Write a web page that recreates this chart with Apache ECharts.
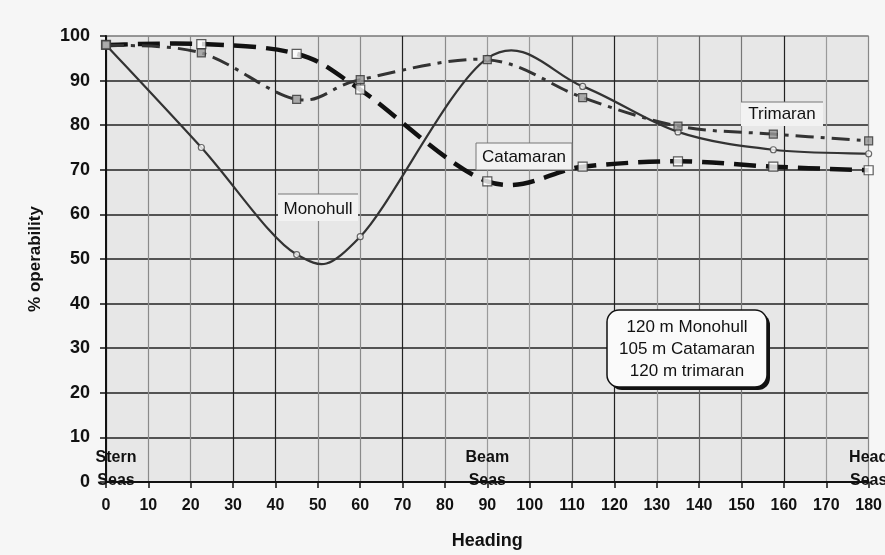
<!DOCTYPE html>
<html>
<head>
<meta charset="utf-8">
<script src="https://cdn.jsdelivr.net/npm/echarts@6/dist/echarts.min.js"></script>
<style>
html,body{margin:0;padding:0;background:#f6f6f6;}
#main{width:885px;height:555px;}
</style>
</head>
<body>
<div id="main"></div>
<script>
// ---- data ----
const headings = [0, 22.5, 45, 60, 90, 112.5, 135, 157.5, 180];
const monohull = [98, 75, 51, 55, 95, 88.7, 78.5, 74.5, 73.6];
const catamaran = [98, 98.2, 96, 88, 67.4, 70.7, 71.9, 70.7, 69.9];
const trimaran = [98, 96.2, 85.8, 90.2, 94.7, 86.2, 79.8, 78, 76.5];
const seaLabelX = [0, 90, 180];
const seaLabelText = ['Stern\nSeas', 'Beam\nSeas', 'Head\nSeas'];
const legendLines = ['120 m Monohull', '105 m Catamaran', '120 m trimaran'];

const FONT = '"Liberation Sans", Arial, sans-serif';
const pair = (ys) => headings.map((h, i) => [h, ys[i]]);

// Catmull-Rom spline through pixel points -> SVG path data
function crPath(pts) {
  let d = 'M' + pts[0][0] + ' ' + pts[0][1];
  for (let i = 0; i < pts.length - 1; i++) {
    const p0 = pts[i - 1] || pts[i];
    const p1 = pts[i];
    const p2 = pts[i + 1];
    const p3 = pts[i + 2] || pts[i + 1];
    const c1x = p1[0] + (p2[0] - p0[0]) / 6, c1y = p1[1] + (p2[1] - p0[1]) / 6;
    const c2x = p2[0] - (p3[0] - p1[0]) / 6, c2y = p2[1] - (p3[1] - p1[1]) / 6;
    d += ' C' + c1x + ' ' + c1y + ' ' + c2x + ' ' + c2y + ' ' + p2[0] + ' ' + p2[1];
  }
  return d;
}

function curveSeries(name, values, lineStyle, z) {
  return {
    name: name, type: 'custom', data: pair(values), z: z, silent: true,
    renderItem: function (params, api) {
      if (params.dataIndex !== 0) return null;
      const pts = values.map((v, i) => api.coord([headings[i], v]));
      return {
        type: 'path',
        shape: {pathData: crPath(pts)},
        style: Object.assign({fill: 'none'}, lineStyle)
      };
    }
  };
}

function markerSeries(name, values, symbol, size, itemStyle, z) {
  return {
    name: name + ' markers', type: 'scatter', data: pair(values), z: z,
    symbol: symbol, symbolSize: size, itemStyle: itemStyle, silent: true
  };
}

const chart = echarts.init(document.getElementById('main'), null, {renderer: 'canvas'});

const vColors = ['#222','#8a8a8a','#8a8a8a','#222','#222','#8a8a8a','#8a8a8a','#222','#8a8a8a','#9a9a9a','#9a9a9a','#666','#222','#9a9a9a','#666','#777','#222','#9a9a9a','#888'];
const hColors = ['#222','#222','#222','#222','#222','#222','#222','#222','#222','#222','#777'];

const baseGraphic = [
  // Monohull label
  {type: 'rect', shape: {x: 278, y: 194, width: 80, height: 27}, style: {fill: '#f2f2f2'}, z: 10},
  {type: 'line', shape: {x1: 278, y1: 194, x2: 358, y2: 194}, style: {stroke: '#777', lineWidth: 1}, z: 11},
  {type: 'text', x: 318, y: 209, style: {text: 'Monohull', font: '17px ' + FONT, fill: '#111', align: 'center', verticalAlign: 'middle'}, z: 12},
  // Catamaran label
  {type: 'rect', shape: {x: 476, y: 143, width: 96, height: 27}, style: {fill: '#f2f2f2', stroke: '#777', lineWidth: 1}, z: 10},
  {type: 'text', x: 524, y: 157, style: {text: 'Catamaran', font: '17px ' + FONT, fill: '#111', align: 'center', verticalAlign: 'middle'}, z: 12},
  // Trimaran label
  {type: 'rect', shape: {x: 741, y: 102, width: 82, height: 24}, style: {fill: '#f2f2f2'}, z: 10},
  {type: 'line', shape: {x1: 741, y1: 102, x2: 823, y2: 102}, style: {stroke: '#777', lineWidth: 1}, z: 11},
  {type: 'text', x: 782, y: 114, style: {text: 'Trimaran', font: '17px ' + FONT, fill: '#111', align: 'center', verticalAlign: 'middle'}, z: 12},
  // Legend box
  {type: 'rect', shape: {x: 610, y: 313, width: 160, height: 77, r: 12}, style: {fill: '#111'}, z: 20},
  {type: 'rect', shape: {x: 607, y: 310, width: 160, height: 77, r: 12}, style: {fill: '#fafafa', stroke: '#111', lineWidth: 1.5}, z: 21},
  {type: 'text', x: 687, y: 349, style: {text: legendLines.join('\n'), font: '17px ' + FONT, lineHeight: 22, fill: '#111', align: 'center', verticalAlign: 'middle'}, z: 22}
];

chart.setOption({
  backgroundColor: '#f6f6f6',
  animation: false,
  grid: {left: 106, right: 13, top: 36, bottom: 68, show: true, backgroundColor: '#e7e7e7', borderWidth: 0},
  xAxis: {
    type: 'value', min: 0, max: 180, interval: 10,
    name: 'Heading', nameLocation: 'middle', nameGap: 50,
    nameTextStyle: {fontFamily: FONT, fontWeight: 'bold', fontSize: 18, color: '#111'},
    axisLine: {lineStyle: {color: '#111', width: 2}},
    axisTick: {show: true, length: 6, lineStyle: {color: '#111', width: 1.5}},
    axisLabel: {fontFamily: FONT, fontWeight: 'bold', fontSize: 16, color: '#111', margin: 16},
    splitLine: {show: true, lineStyle: {color: vColors, width: 1.2}}
  },
  yAxis: {
    type: 'value', min: 0, max: 100, interval: 10,
    name: '% operability', nameLocation: 'middle', nameGap: 62, nameRotate: 90,
    nameTextStyle: {fontFamily: FONT, fontWeight: 'bold', fontSize: 17, color: '#111'},
    axisLine: {show: true, lineStyle: {color: '#111', width: 2}},
    axisTick: {show: true, length: 6, lineStyle: {color: '#111', width: 1.5}},
    axisLabel: {fontFamily: FONT, fontWeight: 'bold', fontSize: 18, color: '#111', margin: 16},
    splitLine: {show: true, lineStyle: {color: hColors, width: 1.6}}
  },
  series: [
    curveSeries('Monohull', monohull, {stroke: '#333', lineWidth: 2.2}, 3),
    curveSeries('Catamaran', catamaran, {stroke: '#111', lineWidth: 4.5, lineDash: [22, 10]}, 4),
    curveSeries('Trimaran', trimaran, {stroke: '#333', lineWidth: 3, lineDash: [18, 7, 4, 7]}, 5),
    markerSeries('Monohull', monohull, 'circle', 6, {color: '#fff', borderColor: '#444', borderWidth: 1.2}, 6),
    markerSeries('Catamaran', catamaran, 'rect', 9, {color: '#fff', borderColor: '#333', borderWidth: 1.2}, 7),
    markerSeries('Trimaran', trimaran, 'rect', 8, {color: '#999', borderColor: '#333', borderWidth: 1.2}, 8)
  ],
  graphic: baseGraphic
});

const seaGraphic = seaLabelX.map((x, i) => {
  const p = chart.convertToPixel({xAxisIndex: 0, yAxisIndex: 0}, [x, 0]);
  return {
    type: 'text', x: p[0] + (i === 0 ? 10 : 0), y: p[1] - 13, z: 15,
    style: {text: seaLabelText[i], font: 'bold 16px ' + FONT, lineHeight: 23, fill: '#111', align: 'center', verticalAlign: 'middle'}
  };
});
chart.setOption({graphic: baseGraphic.concat(seaGraphic)});
</script>
</body>
</html>
